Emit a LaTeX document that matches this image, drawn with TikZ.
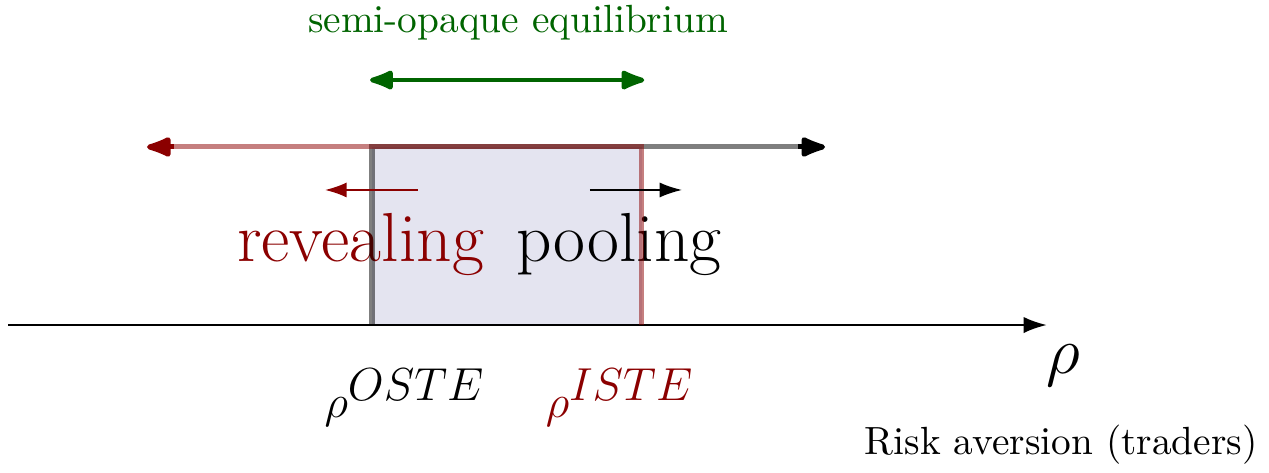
\documentclass[tikz,border=0pt]{standalone}
\usetikzlibrary{arrows.meta}
\definecolor{darkred}{rgb}{0.545,0,0}
\definecolor{darkgreen}{RGB}{0,100,0}
\definecolor{boxfill}{RGB}{228,228,240}
\begin{document}
\begin{tikzpicture}[
        font=\fontsize{10.2}{12}\selectfont,
        bigtext/.style={font=\fontsize{18}{22}\selectfont, anchor=base},
        thresh/.style={font=\fontsize{12.4}{15}\selectfont, anchor=base},
        bigtip/.style={-{Latex[length=8.2pt,width=6pt,round]}, line width=1.3pt},
        halfline/.style={draw opacity=0.5, line width=1.3pt, shorten >=6.5pt},
    ]
                \useasboundingbox (-0.073,-1.340) rectangle (11.495,2.963);
                % Key points
                \coordinate (O) at (0,0);
                \coordinate (axend) at (9.47,0);
                \coordinate (oste) at (3.318,0);
                \coordinate (iste) at (5.779,0);
                \coordinate (osteTop) at (3.318,1.623);
                \coordinate (isteTop) at (5.779,1.623);
                \coordinate (revTip) at (1.267,1.623);
                \coordinate (poolTip) at (7.448,1.623);
                \coordinate (revFrom) at (3.737,1.231);
                \coordinate (revTo) at (2.890,1.231);
                \coordinate (poolFrom) at (5.305,1.231);
                \coordinate (poolTo) at (6.144,1.231);
                \coordinate (semiL) at (3.300,2.233);
                \coordinate (semiR) at (5.800,2.233);
                % Region between thresholds
                \fill[boxfill] (oste) rectangle (isteTop);
                % Labels
                \node[bigtext, text=darkred] (rev) at (3.213,0.583) {revealing};
                \node[bigtext] (pool) at (5.570,0.583) {pooling};
                \node[anchor=base, text=darkgreen] (semi) at (4.649,2.662) {semi-opaque equilibrium};
                \node[thresh] (osteLab) at (3.619,-0.839) {$\rho^{\textstyle OSTE}$};
                \node[thresh, text=darkred] (isteLab) at (5.579,-0.839) {$\rho^{\textstyle ISTE}$};
                \node[bigtext] (rho) at (9.617,-0.438) {$\rho$};
                \node[anchor=base] (risk) at (9.599,-1.176) {Risk aversion (traders)};
                % Axis
                \draw[-{Latex[length=6pt,width=4.2pt]}, semithick] (O) -- (axend);
                % Pooling side, then revealing side
                \draw[black, halfline] (oste) -- (osteTop) -- (poolTip);
                \draw[black, bigtip] ([xshift=-7pt]poolTip) -- (poolTip);
                \draw[darkred, halfline] (iste) -- (isteTop) -- (revTip);
                \draw[darkred, bigtip] ([xshift=7pt]revTip) -- (revTip);
                % Small direction arrows
                \draw[-{Latex[length=5.6pt,width=3.9pt]}, darkred, thin] (revFrom) -- (revTo);
                \draw[-{Latex[length=5.8pt,width=3.9pt]}, black, thin] (poolFrom) -- (poolTo);
                % Semi-opaque range
                \draw[{Latex[length=7.8pt,width=5.8pt,round]}-{Latex[length=7.8pt,width=5.8pt,round]}, darkgreen, line width=1.2pt] (semiL) -- (semiR);
\end{tikzpicture}
\end{document}
